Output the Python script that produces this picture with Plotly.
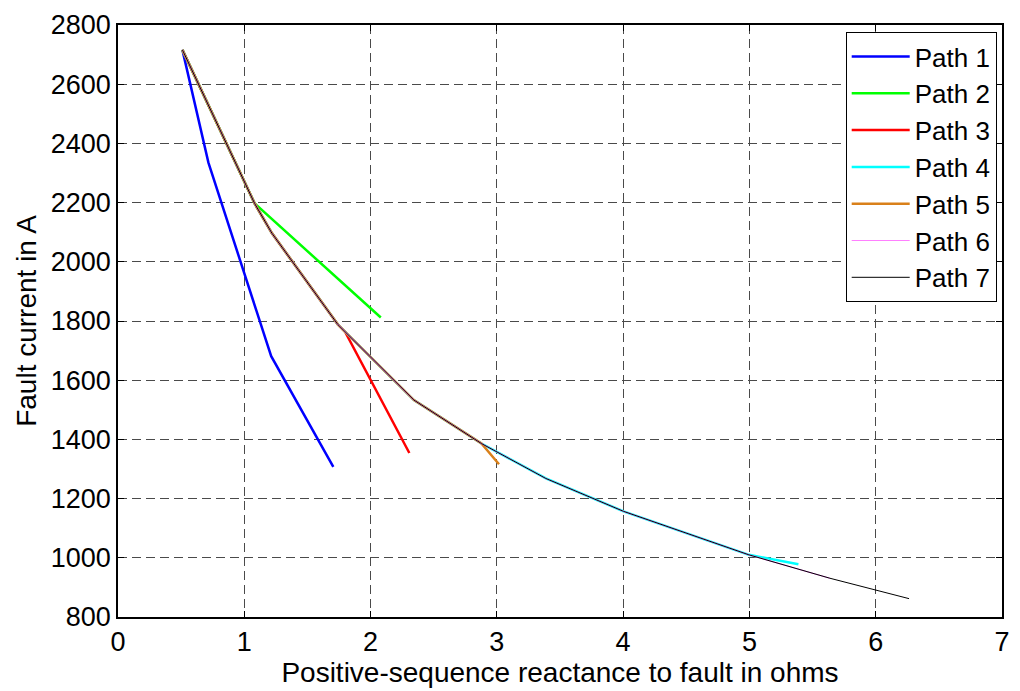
import plotly.graph_objects as go

# Fault current versus positive-sequence reactance along each feeder path
path_names = ["Path 1", "Path 2", "Path 3", "Path 4", "Path 5", "Path 6", "Path 7"]

reactance = [
    [0.51, 0.716, 1.213, 1.705],
    [0.51, 1.082, 2.081],
    [0.51, 1.082, 1.218, 1.741, 1.80, 2.307],
    [0.51, 1.082, 1.218, 1.741, 2.343, 2.878, 3.388, 4.003, 4.996, 5.388],
    [0.51, 1.082, 1.218, 1.741, 2.343, 2.878, 3.017],
    [0.51, 1.082, 1.218, 1.741, 2.343, 2.878, 3.388, 4.003, 4.996, 5.637],
    [0.51, 1.082, 1.218, 1.741, 2.343, 2.878, 3.388, 4.003, 4.996, 5.637, 6.264],
]

fault_current = [
    [2716, 2335, 1681, 1307],
    [2716, 2197, 1812],
    [2716, 2197, 2097, 1788, 1762, 1354],
    [2716, 2197, 2097, 1788, 1533, 1386, 1268, 1157, 1010, 978],
    [2716, 2197, 2097, 1788, 1533, 1386, 1316],
    [2716, 2197, 2097, 1788, 1533, 1386, 1268, 1157, 1010, 931],
    [2716, 2197, 2097, 1788, 1533, 1386, 1268, 1157, 1010, 931, 862],
]

line_colors = ["#0000FF", "#00FF00", "#FF0000", "#00FFFF", "#D9801A", "#FF80FF", "#000000"]
line_widths = [2.5, 2.5, 2.5, 2.5, 2.5, 1.2, 1.0]

x_ticks = [0, 1, 2, 3, 4, 5, 6, 7]
y_ticks = [800, 1000, 1200, 1400, 1600, 1800, 2000, 2200, 2400, 2600, 2800]

font_family = "Liberation Sans, Arial, sans-serif"

fig = go.Figure()
for i, name in enumerate(path_names):
    fig.add_trace(go.Scatter(
        x=reactance[i], y=fault_current[i], mode="lines", name=name,
        line=dict(color=line_colors[i], width=line_widths[i]),
    ))

axis_common = dict(
    showline=True, linecolor="black", linewidth=1.5, mirror="ticks",
    ticks="inside", ticklen=6, tickwidth=1, tickcolor="black",
    showgrid=True, gridcolor="#4a4a4a", gridwidth=1, griddash="9px,5px",
    zeroline=False,
    tickfont=dict(family=font_family, size=27, color="black"),
)

fig.update_xaxes(
    range=[0, 7], tickvals=x_ticks,
    title=dict(text="Positive-sequence reactance to fault in ohms",
               font=dict(family=font_family, size=28, color="black"), standoff=4),
    **axis_common,
)
fig.update_yaxes(
    range=[800, 2800], tickvals=y_ticks,
    title=dict(text="Fault current in A",
               font=dict(family=font_family, size=28, color="black"), standoff=6),
    **axis_common,
)

fig.update_layout(
    width=1020, height=691,
    margin=dict(l=118, r=10, t=20, b=69),
    paper_bgcolor="white", plot_bgcolor="white",
    font=dict(family=font_family, size=26, color="black"),
    showlegend=True,
    legend=dict(
        x=0.994, y=0.988, xanchor="right", yanchor="top",
        bgcolor="white", bordercolor="black", borderwidth=1,
        font=dict(family=font_family, size=26, color="black"),
        itemwidth=58, tracegroupgap=0,
    ),
)

fig.write_html("out.html")
